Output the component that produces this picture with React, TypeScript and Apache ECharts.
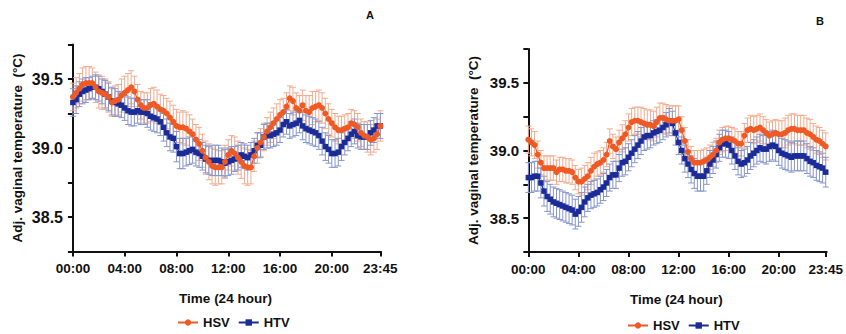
import React, { useEffect, useRef } from "react";
import * as echarts from "echarts";

const tickIndex = [0, 16, 32, 48, 64, 80, 95];
const tickLabels = ["00:00", "04:00", "08:00", "12:00", "16:00", "20:00", "23:45"];
const yLabelValues = [38.5, 39.0, 39.5];

// Panel A
const hsvA = [39.37,39.40,39.43,39.46,39.47,39.47,39.47,39.44,39.41,39.40,39.39,39.37,39.33,39.34,39.35,39.38,39.40,39.42,39.44,39.41,39.35,39.31,39.29,39.29,39.31,39.32,39.30,39.28,39.27,39.25,39.22,39.19,39.16,39.15,39.15,39.14,39.12,39.10,39.06,39.03,38.98,38.93,38.90,38.87,38.86,38.86,38.86,38.90,38.95,38.98,38.96,38.93,38.90,38.87,38.86,38.86,38.94,39.00,39.04,39.08,39.12,39.15,39.18,39.21,39.24,39.26,39.30,39.36,39.34,39.29,39.27,39.31,39.27,39.26,39.29,39.30,39.31,39.29,39.25,39.21,39.18,39.15,39.13,39.13,39.14,39.15,39.18,39.17,39.15,39.11,39.09,39.08,39.06,39.07,39.10,39.16];
const hsvAErr = [0.10,0.11,0.11,0.12,0.12,0.12,0.11,0.11,0.12,0.12,0.11,0.11,0.10,0.11,0.11,0.12,0.12,0.12,0.12,0.11,0.11,0.10,0.11,0.11,0.12,0.12,0.12,0.11,0.11,0.11,0.12,0.12,0.12,0.11,0.12,0.12,0.12,0.11,0.11,0.12,0.12,0.12,0.13,0.13,0.13,0.12,0.12,0.12,0.11,0.11,0.12,0.12,0.12,0.13,0.13,0.12,0.11,0.11,0.10,0.10,0.10,0.11,0.11,0.11,0.11,0.10,0.10,0.09,0.10,0.11,0.11,0.11,0.11,0.12,0.12,0.11,0.11,0.11,0.11,0.11,0.10,0.10,0.10,0.10,0.10,0.10,0.10,0.10,0.10,0.10,0.10,0.11,0.11,0.10,0.11,0.11];
const htvA = [39.33,39.35,39.39,39.41,39.42,39.43,39.44,39.44,39.43,39.41,39.39,39.37,39.34,39.33,39.32,39.31,39.29,39.27,39.26,39.26,39.27,39.26,39.26,39.25,39.23,39.22,39.21,39.19,39.15,39.11,39.08,39.07,39.01,38.96,38.96,38.97,38.98,38.99,38.97,38.96,38.94,38.92,38.91,38.91,38.91,38.91,38.90,38.89,38.90,38.91,38.92,38.93,38.95,38.94,38.93,38.95,38.98,39.02,39.02,39.08,39.09,39.09,39.10,39.11,39.13,39.17,39.19,39.16,39.17,39.18,39.20,39.16,39.14,39.13,39.12,39.11,39.09,39.05,39.01,38.99,38.96,38.96,38.97,39.01,39.04,39.07,39.10,39.12,39.09,39.08,39.08,39.08,39.11,39.13,39.16,39.16];
const htvAErr = [0.10,0.10,0.09,0.09,0.09,0.08,0.08,0.09,0.09,0.09,0.10,0.10,0.10,0.10,0.09,0.09,0.09,0.10,0.10,0.10,0.09,0.09,0.09,0.10,0.10,0.10,0.10,0.10,0.10,0.10,0.10,0.10,0.11,0.11,0.11,0.10,0.10,0.10,0.10,0.10,0.10,0.10,0.10,0.11,0.11,0.11,0.10,0.10,0.10,0.10,0.09,0.09,0.09,0.09,0.09,0.09,0.09,0.09,0.09,0.09,0.09,0.09,0.09,0.09,0.09,0.09,0.09,0.09,0.09,0.09,0.09,0.10,0.10,0.10,0.10,0.10,0.10,0.10,0.10,0.10,0.10,0.10,0.10,0.10,0.09,0.09,0.09,0.09,0.09,0.09,0.09,0.09,0.09,0.09,0.09,0.09];

// Panel B
const hsvB = [39.08,39.06,39.04,38.97,38.91,38.87,38.87,38.87,38.87,38.84,38.86,38.86,38.85,38.85,38.84,38.80,38.77,38.77,38.79,38.81,38.85,38.88,38.90,38.91,38.93,38.97,39.07,39.03,39.01,39.06,39.09,39.12,39.17,39.21,39.22,39.22,39.21,39.20,39.19,39.19,39.18,39.21,39.24,39.24,39.23,39.22,39.22,39.22,39.23,39.15,39.07,38.99,38.94,38.91,38.91,38.91,38.92,38.93,38.95,38.97,39.00,39.06,39.08,39.09,39.09,39.08,39.07,39.05,39.05,39.11,39.15,39.16,39.15,39.16,39.17,39.15,39.13,39.11,39.12,39.13,39.12,39.12,39.13,39.15,39.16,39.16,39.15,39.15,39.15,39.13,39.12,39.10,39.08,39.07,39.05,39.03];
const hsvBErr = [0.10,0.10,0.10,0.10,0.09,0.09,0.09,0.09,0.09,0.09,0.09,0.09,0.09,0.09,0.09,0.09,0.09,0.10,0.10,0.10,0.10,0.10,0.09,0.09,0.09,0.09,0.09,0.09,0.09,0.09,0.10,0.10,0.10,0.10,0.10,0.10,0.11,0.11,0.11,0.11,0.11,0.11,0.11,0.11,0.11,0.11,0.11,0.11,0.10,0.10,0.10,0.09,0.09,0.09,0.09,0.09,0.09,0.09,0.09,0.09,0.09,0.09,0.09,0.09,0.09,0.09,0.09,0.09,0.09,0.09,0.09,0.10,0.10,0.10,0.10,0.10,0.10,0.10,0.10,0.10,0.10,0.10,0.11,0.11,0.11,0.11,0.11,0.11,0.11,0.11,0.11,0.10,0.10,0.10,0.10,0.10];
const htvB = [38.80,38.80,38.81,38.81,38.76,38.70,38.66,38.64,38.62,38.61,38.60,38.59,38.58,38.57,38.56,38.53,38.55,38.58,38.62,38.65,38.67,38.68,38.69,38.71,38.73,38.76,38.80,38.82,38.82,38.87,38.91,38.92,38.95,38.98,39.01,39.04,39.07,39.10,39.11,39.11,39.13,39.14,39.15,39.17,39.19,39.22,39.20,39.13,39.06,39.00,38.94,38.90,38.86,38.83,38.81,38.81,38.81,38.85,38.90,38.93,38.97,39.02,39.05,39.05,39.04,39.00,38.96,38.92,38.90,38.91,38.93,38.96,38.98,39.00,39.02,39.01,39.01,39.03,39.04,39.03,39.00,38.98,38.97,38.96,38.95,38.96,38.96,38.96,38.96,38.94,38.92,38.91,38.89,38.88,38.87,38.84];
const htvBErr = [0.11,0.11,0.11,0.11,0.11,0.11,0.11,0.11,0.11,0.11,0.11,0.11,0.11,0.11,0.11,0.11,0.11,0.11,0.11,0.10,0.10,0.10,0.10,0.10,0.10,0.10,0.10,0.10,0.10,0.10,0.10,0.10,0.10,0.10,0.10,0.10,0.10,0.10,0.10,0.09,0.09,0.09,0.09,0.09,0.09,0.09,0.09,0.09,0.09,0.10,0.10,0.10,0.10,0.11,0.11,0.11,0.11,0.10,0.10,0.10,0.10,0.10,0.10,0.10,0.10,0.10,0.10,0.10,0.10,0.10,0.10,0.10,0.10,0.10,0.10,0.10,0.11,0.11,0.11,0.11,0.11,0.11,0.11,0.11,0.11,0.11,0.11,0.11,0.11,0.11,0.11,0.11,0.11,0.11,0.11,0.11];

const ORANGE = "#EF5A24";
const BLUE = "#1B2B98";
const ORANGE_ERR = "#F2AC8F";
const BLUE_ERR = "#8797CC";
const FONT = "'Liberation Sans', Arial, sans-serif";

function pairs(vals: number[]) {
  return vals.map((v, i) => [i, v]);
}
function errData(vals: number[], errs: number[]) {
  return vals.map((v, i) => [i, v - errs[i], v + errs[i]]);
}

function errSeries(data: number[][], color: string, gi: number) {
  return {
    type: "custom",
    xAxisIndex: gi,
    yAxisIndex: gi,
    data,
    encode: { x: 0, y: [1, 2] },
    z: 1,
    silent: true,
    renderItem: (params: any, api: any) => {
      const x = api.value(0);
      const lo = api.coord([x, api.value(1)]);
      const hi = api.coord([x, api.value(2)]);
      const hw = 3;
      const style = { stroke: color, lineWidth: 1 };
      return {
        type: "group",
        children: [
          { type: "line", shape: { x1: lo[0], y1: lo[1], x2: hi[0], y2: hi[1] }, style },
          { type: "line", shape: { x1: hi[0] - hw, y1: hi[1], x2: hi[0] + hw, y2: hi[1] }, style },
          { type: "line", shape: { x1: lo[0] - hw, y1: lo[1], x2: lo[0] + hw, y2: lo[1] }, style },
        ],
      };
    },
  };
}

function lineSeries(name: string, vals: number[], color: string, symbol: string, size: number, gi: number) {
  return {
    type: "line",
    name,
    xAxisIndex: gi,
    yAxisIndex: gi,
    data: pairs(vals),
    symbol,
    symbolSize: size,
    showSymbol: true,
    lineStyle: { color, width: 1.2 },
    itemStyle: { color },
    z: name === "HSV" ? 4 : 3,
  };
}

function xAxis(gi: number, min: number, max: number) {
  return {
    type: "value",
    gridIndex: gi,
    min,
    max,
    splitLine: { show: false },
    axisLine: { show: true, lineStyle: { color: "#111", width: 2 } },
    axisTick: { show: true, customValues: tickIndex, length: 5, lineStyle: { color: "#111", width: 2 } },
    axisLabel: {
      customValues: tickIndex,
      formatter: (v: number) => tickLabels[tickIndex.indexOf(Math.round(v))] ?? "",
      color: "#111",
      fontWeight: "bold",
      fontSize: 13.5,
      fontFamily: FONT,
      margin: 10,
    },
    name: "Time (24 hour)",
    nameLocation: "middle",
    nameGap: 40,
    nameTextStyle: { color: "#111", fontWeight: "bold", fontSize: 13.5, fontFamily: FONT },
  };
}

function yAxis(gi: number, fs: number) {
  return {
    type: "value",
    gridIndex: gi,
    min: 38.25,
    max: 39.75,
    interval: 0.25,
    splitLine: { show: false },
    axisLine: { show: true, lineStyle: { color: "#111", width: 2 } },
    axisTick: { show: true, length: 5, lineStyle: { color: "#111", width: 2 } },
    axisLabel: {
      customValues: yLabelValues,
      formatter: (v: number) => v.toFixed(1),
      color: "#111",
      fontWeight: "bold",
      fontSize: fs,
      fontFamily: FONT,
      margin: 7,
    },
    name: "Adj. vaginal temperature  (°C)",
    nameLocation: "middle",
    nameGap: 46,
    nameTextStyle: { color: "#111", fontWeight: "bold", fontSize: 13.5, fontFamily: FONT },
  };
}

function legend(left: number, top: number) {
  return {
    left,
    top,
    padding: 0,
    itemWidth: 20,
    itemHeight: 8,
    itemGap: 8,
    data: ["HSV", "HTV"],
    textStyle: { color: "#111", fontWeight: "bold", fontSize: 13, fontFamily: FONT },
  };
}

export default function App() {
  const ref = useRef<HTMLDivElement>(null);
  useEffect(() => {
    document.body.style.margin = "0";
    if (!ref.current) return;
    const chart = echarts.init(ref.current, undefined, { renderer: "svg" });
    chart.setOption({
      animation: false,
      backgroundColor: "#fff",
      grid: [
        { left: 70, top: 44.5, width: 311, height: 207 },
        { left: 526, top: 49, width: 305, height: 203 },
      ],
      xAxis: [xAxis(0, -0.9, 95.2), xAxis(1, -0.75, 95.3)],
      yAxis: [yAxis(0, 16), yAxis(1, 15)],
      legend: [legend(177, 316), legend(627, 319)],
      graphic: [
        { type: "text", left: 366, top: 9, style: { text: "A", fontSize: 11, fontWeight: "bold", fontFamily: FONT, fill: "#111" } },
        { type: "text", left: 816, top: 15, style: { text: "B", fontSize: 11, fontWeight: "bold", fontFamily: FONT, fill: "#111" } },
      ],
      series: [
        errSeries(errData(hsvA, hsvAErr), ORANGE_ERR, 0),
        errSeries(errData(htvA, htvAErr), BLUE_ERR, 0),
        lineSeries("HTV", htvA, BLUE, "rect", 5.5, 0),
        lineSeries("HSV", hsvA, ORANGE, "circle", 6, 0),
        errSeries(errData(hsvB, hsvBErr), ORANGE_ERR, 1),
        errSeries(errData(htvB, htvBErr), BLUE_ERR, 1),
        lineSeries("HTV", htvB, BLUE, "rect", 5.5, 1),
        lineSeries("HSV", hsvB, ORANGE, "circle", 6, 1),
      ],
    });
    return () => chart.dispose();
  }, []);
  return <div ref={ref} style={{ width: 846, height: 334 }} />;
}
